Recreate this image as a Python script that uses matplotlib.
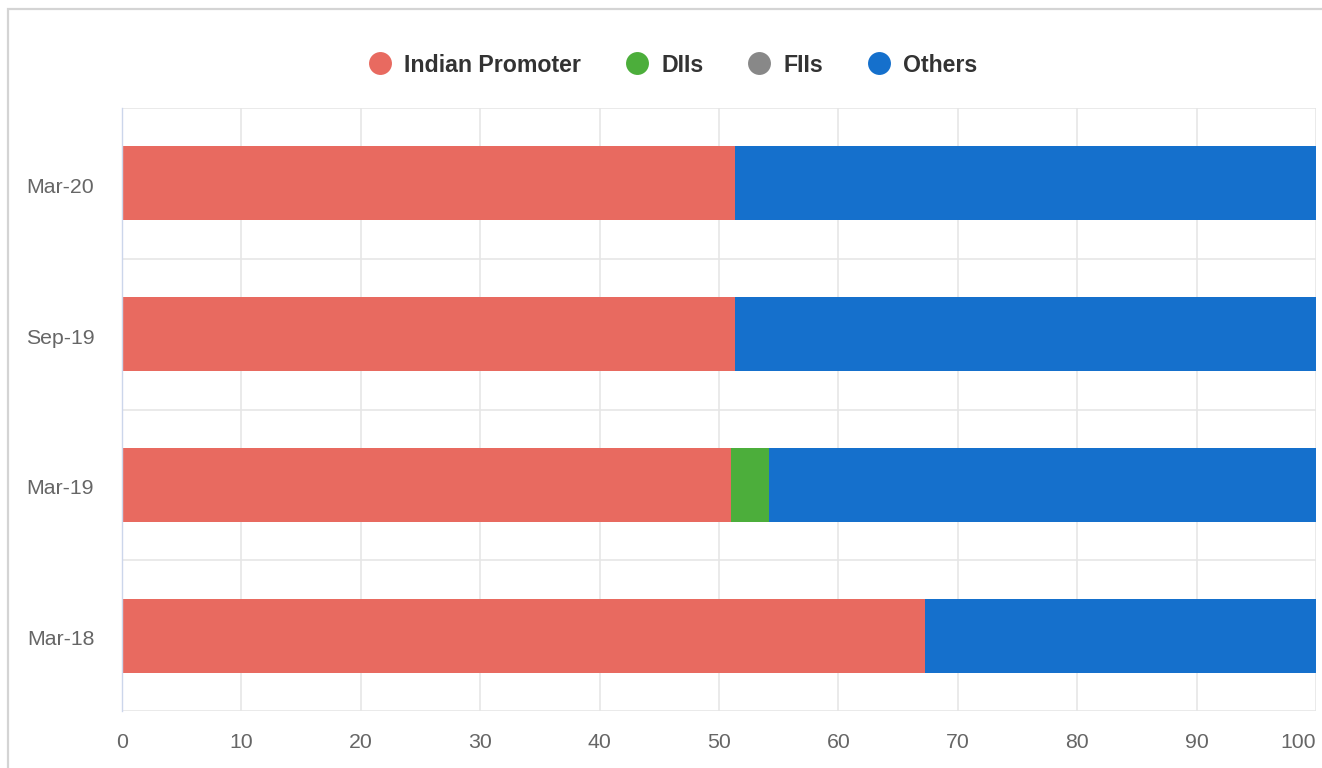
import matplotlib
matplotlib.use("Agg")
import matplotlib.pyplot as plt
from matplotlib.patches import Rectangle
from matplotlib.lines import Line2D
import matplotlib.transforms as mtransforms
import numpy as np

plt.rcParams['font.family'] = ['Liberation Sans', 'DejaVu Sans']

# ---- data ----
categories = ['Mar-18', 'Mar-19', 'Sep-19', 'Mar-20']
series_names = ['Indian Promoter', 'DIIs', 'FIIs', 'Others']
promoter = [67.25, 51.02, 51.34, 51.34]
diis = [0.0, 3.18, 0.0, 0.0]
fiis = [0.0, 0.0, 0.0, 0.0]
others = [32.75, 45.80, 48.66, 48.66]
x_ticks = [0, 10, 20, 30, 40, 50, 60, 70, 80, 90, 100]

colors = ['#E86A60', '#4CAE3B', '#888888', '#1570CC']

W, H = 1322, 768
fig = plt.figure(figsize=(W / 100, H / 100), dpi=100)
fig.patch.set_facecolor('white')

# card border
fig.patches.append(Rectangle((8 / W, -0.1), 1.2, 1 - 9 / H + 0.1,
                             transform=fig.transFigure, fill=False,
                             edgecolor='#d4d4d4', linewidth=1.6, zorder=0))

left, right, top, bottom = 122, 1316, 108, 711
ax = fig.add_axes([left / W, 1 - bottom / H, (right - left) / W, (bottom - top) / H])

y = np.arange(len(categories))
bar_h = 0.49
data = [promoter, diis, fiis, others]
base = np.zeros(len(categories))
for name, vals, c in zip(series_names, data, colors):
    vals = np.array(vals)
    ax.barh(y, vals, left=base, height=bar_h, color=c, linewidth=0, zorder=3)
    base = base + vals

ax.set_xlim(0, 100)
ax.set_ylim(-0.5, len(categories) - 0.5)

ax.set_xticks(x_ticks)
ax.set_xticklabels([str(t) for t in x_ticks])
ax.set_yticks(y)
ax.set_yticklabels(categories)
ax.set_yticks(np.arange(-0.5, len(categories), 1.0), minor=True)

ax.tick_params(axis='x', length=0, pad=15.5, labelsize=15.3, labelcolor='#666666')
ax.tick_params(axis='y', which='major', length=0, pad=20, labelsize=15.3, labelcolor='#666666')
ax.tick_params(axis='y', which='minor', length=0)
last = ax.get_xticklabels()[-1]
last.set_horizontalalignment('right')

offset = mtransforms.ScaledTranslation(0, -2 / 100, fig.dpi_scale_trans)
for lbl in ax.get_yticklabels():
    lbl.set_transform(lbl.get_transform() + offset)

ax.grid(axis='x', which='major', color='#e6e6e6', linewidth=1.2, zorder=0)
ax.grid(axis='y', which='minor', color='#e6e6e6', linewidth=1.2, zorder=0)
ax.set_axisbelow(True)

for s in ['top', 'right', 'bottom']:
    ax.spines[s].set_visible(False)
ax.spines['left'].set_color('#ccd6eb')
ax.spines['left'].set_linewidth(1.0)
ax.spines['left'].set_zorder(4)

handles = [Line2D([0], [0], marker='o', linestyle='none', markersize=16.5,
                  markerfacecolor=c, markeredgewidth=0) for c in colors]
leg = fig.legend(handles, series_names, loc='center', ncol=4,
                 bbox_to_anchor=(673 / W, 1 - 65 / H), frameon=False,
                 prop={'size': 16.7, 'weight': 'bold'},
                 handlelength=1.0, handletextpad=0.55, columnspacing=1.9)
for t in leg.get_texts():
    t.set_color('#333333')

fig.savefig('out.png', dpi=100, facecolor='white')
